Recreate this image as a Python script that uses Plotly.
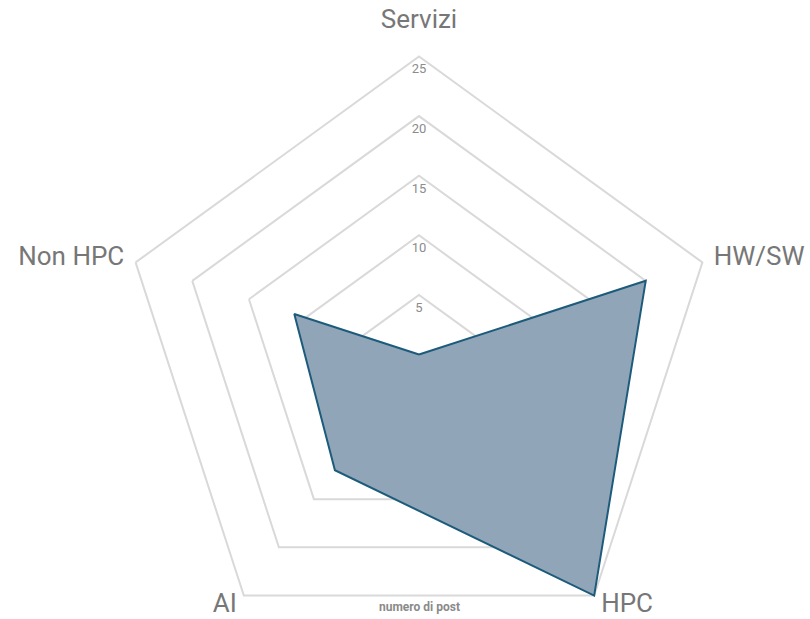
import plotly.graph_objects as go

# Categories around the radar, clockwise from the top
categories = ["Servizi", "HW/SW", "HPC", "AI", "Non HPC"]
# Number of posts per category
post_counts = [0, 20, 25, 12, 11]

# Radial scale ticks
tick_values = [5, 10, 15, 20, 25]
tick_labels = ["5", "10", "15", "20", "25"]

# Where the category names sit just outside the outer ring
label_radius = [27.9, 26, 26, 26, 26]
label_anchor = ["middle center", "middle right", "middle right", "middle left", "middle left"]

# Radial range leaves headroom beyond the last ring for the category names
R_MAX = 28
RING_PX = 298                      # pixel radius of the 25 ring
R_PX = RING_PX * R_MAX / 25        # pixel radius of the whole polar area
CX, CY = 419, 354.5
W, H = 810, 709

GRID = "#d9d9d9"
LABEL = "#777777"

fig = go.Figure()

# Filled polygon of post counts (closed back to the first category)
fig.add_trace(go.Scatterpolar(
    r=post_counts + post_counts[:1],
    theta=categories + categories[:1],
    mode="lines",
    fill="toself",
    fillcolor="#91a5b9",
    line=dict(color="#1d5b7b", width=2),
    hoverinfo="skip",
    showlegend=False,
))

# Radial tick labels placed along the top spoke, just under each ring
fig.add_trace(go.Scatterpolar(
    r=tick_values,
    theta=[categories[0]] * len(tick_values),
    mode="markers+text",
    marker=dict(size=10, opacity=0),
    text=tick_labels,
    textposition="bottom center",
    textfont=dict(family="Roboto", size=13, color="#8c8c8c"),
    hoverinfo="skip",
    showlegend=False,
))

# Category names around the outside
fig.add_trace(go.Scatterpolar(
    r=label_radius,
    theta=categories,
    mode="text",
    text=categories,
    textposition=label_anchor,
    textfont=dict(family="Roboto", size=26, color=LABEL),
    cliponaxis=False,
    hoverinfo="skip",
    showlegend=False,
))

fig.update_layout(
    width=W,
    height=H,
    margin=dict(l=0, r=0, t=0, b=0),
    paper_bgcolor="white",
    plot_bgcolor="white",
    showlegend=False,
    polar=dict(
        domain=dict(x=[(CX - R_PX) / W, (CX + R_PX) / W], y=[0, 1]),
        gridshape="linear",
        bgcolor="white",
        radialaxis=dict(
            range=[0, R_MAX],
            tickvals=tick_values,
            showticklabels=False,
            ticks="",
            showline=False,
            gridcolor=GRID,
            gridwidth=2,
        ),
        angularaxis=dict(
            type="category",
            categoryorder="array",
            categoryarray=categories,
            rotation=90,
            direction="clockwise",
            showgrid=False,
            showline=False,
            ticks="",
            showticklabels=False,
        ),
    ),
    annotations=[dict(
        text="<b>numero di post</b>",
        x=CX / W, xref="paper", xanchor="center",
        y=1 - 607 / H, yref="paper", yanchor="middle",
        showarrow=False,
        font=dict(family="Roboto", size=12, color="#8a8a8a"),
    )],
)

fig.write_html(
    "out.html",
    post_script="document.documentElement.style.overflow='hidden';document.body.style.overflow='hidden';",
)
